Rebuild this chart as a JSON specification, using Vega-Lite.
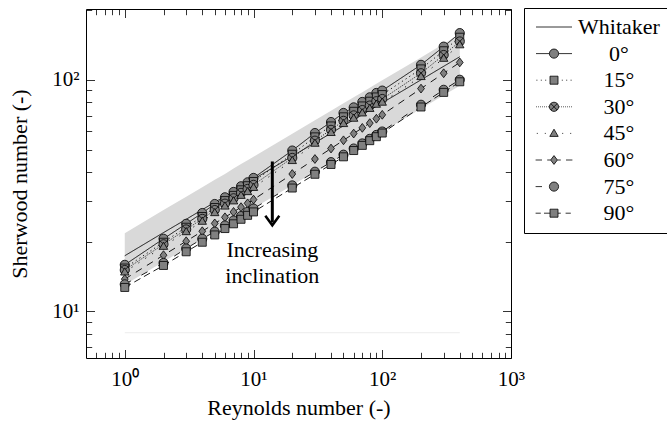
{
  "$schema": "https://vega.github.io/schema/vega-lite/v6.json",
  "width": 425,
  "height": 349,
  "autosize": "none",
  "padding": {"left": 86, "top": 9, "right": 156, "bottom": 68},
  "background": "white",
  "config": {
    "font": "Liberation Serif",
    "view": {"stroke": "black", "strokeWidth": 1},
    "axis": {"domain": false, "grid": false, "tickColor": "black", "tickWidth": 0.8, "labelFont": "Liberation Serif", "labelFontSize": 21, "labelColor": "black", "titleFont": "Liberation Serif", "titleFontSize": 22, "titleFontWeight": "normal", "titleColor": "black", "labelFlush": false, "labelOverlap": false, "labelBound": false}
  },
  "datasets": {
    "series": [
      {"Re":1,"Sh":17.4,"series":"Whitaker"},{"Re":2,"Sh":21.9,"series":"Whitaker"},{"Re":3,"Sh":25.0,"series":"Whitaker"},{"Re":4,"Sh":27.5,"series":"Whitaker"},{"Re":5,"Sh":29.6,"series":"Whitaker"},{"Re":6,"Sh":31.4,"series":"Whitaker"},{"Re":7,"Sh":33.1,"series":"Whitaker"},{"Re":8,"Sh":34.6,"series":"Whitaker"},{"Re":9,"Sh":35.9,"series":"Whitaker"},{"Re":10,"Sh":37.2,"series":"Whitaker"},{"Re":20,"Sh":46.8,"series":"Whitaker"},{"Re":30,"Sh":53.5,"series":"Whitaker"},{"Re":40,"Sh":58.8,"series":"Whitaker"},{"Re":50,"Sh":63.3,"series":"Whitaker"},{"Re":60,"Sh":67.2,"series":"Whitaker"},{"Re":70,"Sh":70.7,"series":"Whitaker"},{"Re":80,"Sh":73.9,"series":"Whitaker"},{"Re":90,"Sh":76.8,"series":"Whitaker"},{"Re":100,"Sh":79.5,"series":"Whitaker"},{"Re":200,"Sh":99.9,"series":"Whitaker"},{"Re":300,"Sh":114.3,"series":"Whitaker"},{"Re":400,"Sh":125.7,"series":"Whitaker"},
      {"Re":1,"Sh":15.9,"series":"0°"},{"Re":2,"Sh":20.6,"series":"0°"},{"Re":3,"Sh":23.9,"series":"0°"},{"Re":4,"Sh":26.6,"series":"0°"},{"Re":5,"Sh":29.1,"series":"0°"},{"Re":6,"Sh":31.1,"series":"0°"},{"Re":7,"Sh":32.8,"series":"0°"},{"Re":8,"Sh":34.7,"series":"0°"},{"Re":9,"Sh":36.1,"series":"0°"},{"Re":10,"Sh":37.7,"series":"0°"},{"Re":20,"Sh":49.5,"series":"0°"},{"Re":30,"Sh":58.9,"series":"0°"},{"Re":40,"Sh":65.7,"series":"0°"},{"Re":50,"Sh":71.9,"series":"0°"},{"Re":60,"Sh":76.0,"series":"0°"},{"Re":70,"Sh":80.2,"series":"0°"},{"Re":80,"Sh":84.0,"series":"0°"},{"Re":90,"Sh":87.7,"series":"0°"},{"Re":100,"Sh":89.8,"series":"0°"},{"Re":200,"Sh":116,"series":"0°"},{"Re":300,"Sh":139,"series":"0°"},{"Re":400,"Sh":159,"series":"0°"},
      {"Re":1,"Sh":15.4,"series":"15°"},{"Re":2,"Sh":19.9,"series":"15°"},{"Re":3,"Sh":23.1,"series":"15°"},{"Re":4,"Sh":25.7,"series":"15°"},{"Re":5,"Sh":28.1,"series":"15°"},{"Re":6,"Sh":30.1,"series":"15°"},{"Re":7,"Sh":31.7,"series":"15°"},{"Re":8,"Sh":33.5,"series":"15°"},{"Re":9,"Sh":34.9,"series":"15°"},{"Re":10,"Sh":36.4,"series":"15°"},{"Re":20,"Sh":47.7,"series":"15°"},{"Re":30,"Sh":56.7,"series":"15°"},{"Re":40,"Sh":63.2,"series":"15°"},{"Re":50,"Sh":69.2,"series":"15°"},{"Re":60,"Sh":73.1,"series":"15°"},{"Re":70,"Sh":77.1,"series":"15°"},{"Re":80,"Sh":80.8,"series":"15°"},{"Re":90,"Sh":84.3,"series":"15°"},{"Re":100,"Sh":86.3,"series":"15°"},{"Re":200,"Sh":111.4,"series":"15°"},{"Re":300,"Sh":133.4,"series":"15°"},{"Re":400,"Sh":152.6,"series":"15°"},
      {"Re":1,"Sh":15.1,"series":"30°"},{"Re":2,"Sh":19.5,"series":"30°"},{"Re":3,"Sh":22.6,"series":"30°"},{"Re":4,"Sh":25.1,"series":"30°"},{"Re":5,"Sh":27.4,"series":"30°"},{"Re":6,"Sh":29.2,"series":"30°"},{"Re":7,"Sh":30.8,"series":"30°"},{"Re":8,"Sh":32.5,"series":"30°"},{"Re":9,"Sh":33.8,"series":"30°"},{"Re":10,"Sh":35.2,"series":"30°"},{"Re":20,"Sh":46.0,"series":"30°"},{"Re":30,"Sh":54.6,"series":"30°"},{"Re":40,"Sh":60.8,"series":"30°"},{"Re":50,"Sh":66.5,"series":"30°"},{"Re":60,"Sh":70.2,"series":"30°"},{"Re":70,"Sh":74.0,"series":"30°"},{"Re":80,"Sh":77.4,"series":"30°"},{"Re":90,"Sh":80.8,"series":"30°"},{"Re":100,"Sh":82.6,"series":"30°"},{"Re":200,"Sh":106.7,"series":"30°"},{"Re":300,"Sh":127.9,"series":"30°"},{"Re":400,"Sh":146.3,"series":"30°"},
      {"Re":1,"Sh":14.8,"series":"45°"},{"Re":2,"Sh":19.1,"series":"45°"},{"Re":3,"Sh":22.1,"series":"45°"},{"Re":4,"Sh":24.5,"series":"45°"},{"Re":5,"Sh":26.7,"series":"45°"},{"Re":6,"Sh":28.5,"series":"45°"},{"Re":7,"Sh":30.0,"series":"45°"},{"Re":8,"Sh":31.7,"series":"45°"},{"Re":9,"Sh":32.9,"series":"45°"},{"Re":10,"Sh":34.3,"series":"45°"},{"Re":20,"Sh":44.8,"series":"45°"},{"Re":30,"Sh":53.2,"series":"45°"},{"Re":40,"Sh":59.2,"series":"45°"},{"Re":50,"Sh":64.7,"series":"45°"},{"Re":60,"Sh":68.2,"series":"45°"},{"Re":70,"Sh":71.9,"series":"45°"},{"Re":80,"Sh":75.2,"series":"45°"},{"Re":90,"Sh":78.4,"series":"45°"},{"Re":100,"Sh":80.0,"series":"45°"},{"Re":200,"Sh":103.2,"series":"45°"},{"Re":300,"Sh":123.7,"series":"45°"},{"Re":400,"Sh":141.5,"series":"45°"},
      {"Re":1,"Sh":13.8,"series":"60°"},{"Re":2,"Sh":17.5,"series":"60°"},{"Re":3,"Sh":20.1,"series":"60°"},{"Re":4,"Sh":22.2,"series":"60°"},{"Re":5,"Sh":24.0,"series":"60°"},{"Re":6,"Sh":25.5,"series":"60°"},{"Re":7,"Sh":26.9,"series":"60°"},{"Re":8,"Sh":28.2,"series":"60°"},{"Re":9,"Sh":29.3,"series":"60°"},{"Re":10,"Sh":30.4,"series":"60°"},{"Re":20,"Sh":39.2,"series":"60°"},{"Re":30,"Sh":45.5,"series":"60°"},{"Re":40,"Sh":50.5,"series":"60°"},{"Re":50,"Sh":54.8,"series":"60°"},{"Re":60,"Sh":58.6,"series":"60°"},{"Re":70,"Sh":62.0,"series":"60°"},{"Re":80,"Sh":65.0,"series":"60°"},{"Re":90,"Sh":67.9,"series":"60°"},{"Re":100,"Sh":70.6,"series":"60°"},{"Re":200,"Sh":91.6,"series":"60°"},{"Re":300,"Sh":106.7,"series":"60°"},{"Re":400,"Sh":118.8,"series":"60°"},
      {"Re":1,"Sh":13.1,"series":"75°"},{"Re":2,"Sh":16.2,"series":"75°"},{"Re":3,"Sh":18.7,"series":"75°"},{"Re":4,"Sh":20.6,"series":"75°"},{"Re":5,"Sh":22.1,"series":"75°"},{"Re":6,"Sh":23.5,"series":"75°"},{"Re":7,"Sh":24.7,"series":"75°"},{"Re":8,"Sh":25.8,"series":"75°"},{"Re":9,"Sh":26.9,"series":"75°"},{"Re":10,"Sh":27.8,"series":"75°"},{"Re":20,"Sh":35.0,"series":"75°"},{"Re":30,"Sh":40.1,"series":"75°"},{"Re":40,"Sh":44.1,"series":"75°"},{"Re":50,"Sh":47.5,"series":"75°"},{"Re":60,"Sh":50.5,"series":"75°"},{"Re":70,"Sh":53.1,"series":"75°"},{"Re":80,"Sh":55.6,"series":"75°"},{"Re":90,"Sh":57.8,"series":"75°"},{"Re":100,"Sh":59.8,"series":"75°"},{"Re":200,"Sh":78.0,"series":"75°"},{"Re":300,"Sh":90.5,"series":"75°"},{"Re":400,"Sh":100,"series":"75°"},
      {"Re":1,"Sh":12.7,"series":"90°"},{"Re":2,"Sh":15.8,"series":"90°"},{"Re":3,"Sh":18.1,"series":"90°"},{"Re":4,"Sh":19.9,"series":"90°"},{"Re":5,"Sh":21.4,"series":"90°"},{"Re":6,"Sh":22.8,"series":"90°"},{"Re":7,"Sh":23.9,"series":"90°"},{"Re":8,"Sh":25.0,"series":"90°"},{"Re":9,"Sh":26.0,"series":"90°"},{"Re":10,"Sh":26.9,"series":"90°"},{"Re":20,"Sh":34.1,"series":"90°"},{"Re":30,"Sh":39.1,"series":"90°"},{"Re":40,"Sh":43.1,"series":"90°"},{"Re":50,"Sh":46.5,"series":"90°"},{"Re":60,"Sh":49.5,"series":"90°"},{"Re":70,"Sh":52.1,"series":"90°"},{"Re":80,"Sh":54.6,"series":"90°"},{"Re":90,"Sh":56.8,"series":"90°"},{"Re":100,"Sh":58.9,"series":"90°"},{"Re":200,"Sh":76.3,"series":"90°"},{"Re":300,"Sh":88.2,"series":"90°"},{"Re":400,"Sh":98,"series":"90°"}
    ],
    "band": [
      {"Re":1,"low":13.05,"high":21.75},{"Re":2,"low":16.4,"high":27.4},{"Re":3,"low":18.75,"high":31.25},{"Re":4,"low":20.6,"high":34.4},{"Re":5,"low":22.2,"high":37.0},{"Re":6,"low":23.55,"high":39.25},{"Re":7,"low":24.8,"high":41.4},{"Re":8,"low":25.95,"high":43.25},{"Re":9,"low":26.9,"high":44.9},{"Re":10,"low":27.9,"high":46.5},{"Re":20,"low":35.1,"high":58.5},{"Re":30,"low":40.1,"high":66.9},{"Re":40,"low":44.1,"high":73.5},{"Re":50,"low":47.5,"high":79.1},{"Re":60,"low":50.4,"high":84.0},{"Re":70,"low":53.0,"high":88.4},{"Re":80,"low":55.4,"high":92.4},{"Re":90,"low":57.6,"high":96.0},{"Re":100,"low":59.6,"high":99.4},{"Re":200,"low":74.9,"high":124.9},{"Re":300,"low":85.7,"high":142.9},{"Re":400,"low":94.3,"high":157.1}
    ],
    "base": [{"Re":1,"Sh":8.1},{"Re":400,"Sh":8.1}],
    "arrow": [{"Re":14,"top":44.4,"end":24.2,"tip":23.55}],
    "note": [{"Re":14,"Sh":18.5,"label":"Increasing\ninclination"}],
    "keys": [{"series":"Whitaker"},{"series":"0°"},{"series":"15°"},{"series":"30°"},{"series":"45°"},{"series":"60°"},{"series":"75°"},{"series":"90°"}]
  },
  "layer": [
    {
      "data": {"name": "band"},
      "mark": {"type": "area", "color": "#d9d9d9", "opacity": 1},
      "encoding": {
        "x": {"field": "Re", "type": "quantitative", "scale": {"type": "log", "domain": [0.5, 1000], "nice": false}, "axis": {"orient": "bottom", "values": [1, 10, 100, 1000], "tickSize": -8.5, "labelPadding": 18.5, "labelExpr": "datum.value == 1 ? '10⁰' : datum.value == 10 ? '10¹' : datum.value == 100 ? '10²' : '10³'", "title": "Reynolds number (-)", "titlePadding": 8}},
        "y": {"field": "low", "type": "quantitative", "scale": {"type": "log", "domain": [6.3, 202], "nice": false}, "axis": {"orient": "left", "values": [10, 100], "tickSize": -8.5, "labelPadding": 15.5, "labelExpr": "datum.value == 10 ? '10¹' : '10²'", "title": "Sherwood number (-)", "titlePadding": 20}},
        "y2": {"field": "high"}
      }
    },
    {
      "data": {"name": "base"},
      "mark": {"type": "line", "color": "#ececec", "strokeWidth": 1},
      "encoding": {
        "x": {"field": "Re", "type": "quantitative", "scale": {"type": "log", "domain": [0.5, 1000], "nice": false}, "axis": {"orient": "bottom", "values": [0.6, 0.7, 0.8, 0.9, 2, 3, 4, 5, 6, 7, 8, 9, 20, 30, 40, 50, 60, 70, 80, 90, 200, 300, 400, 500, 600, 700, 800, 900], "tickSize": -5.7, "labels": false, "title": null}},
        "y": {"field": "Sh", "type": "quantitative", "scale": {"type": "log", "domain": [6.3, 202], "nice": false}, "axis": {"orient": "left", "values": [7, 8, 9, 20, 30, 40, 50, 60, 70, 80, 90, 200], "tickSize": -5.7, "labels": false, "title": null}}
      }
    },
    {
      "data": {"name": "series"},
      "mark": {"type": "line", "color": "black", "strokeWidth": 0.9},
      "encoding": {
        "x": {"field": "Re", "type": "quantitative", "scale": {"type": "log", "domain": [0.5, 1000], "nice": false}, "axis": {"orient": "top", "values": [1, 10, 100, 1000], "tickSize": -8.5, "labels": false, "title": null}},
        "y": {"field": "Sh", "type": "quantitative", "scale": {"type": "log", "domain": [6.3, 202], "nice": false}, "axis": {"orient": "right", "values": [10, 100], "tickSize": -8.5, "labels": false, "title": null}},
        "strokeDash": {
          "field": "series", "type": "nominal",
          "scale": {"domain": ["Whitaker", "0°", "15°", "30°", "45°", "60°", "75°", "90°"], "range": [[1, 0], [1, 0], [1.2, 3.2], [1, 1.4], [1.2, 7], [7, 6], [7, 12], [7, 4]]},
          "legend": null
        }
      }
    },
    {
      "data": {"name": "series"},
      "transform": [{"filter": "datum.series !== 'Whitaker'"}],
      "mark": {"type": "point", "filled": true, "fill": "#808080", "stroke": "black", "strokeWidth": 0.8, "size": 64, "opacity": 1, "fillOpacity": 1, "strokeOpacity": 1},
      "encoding": {
        "x": {"field": "Re", "type": "quantitative", "scale": {"type": "log", "domain": [0.5, 1000], "nice": false}, "axis": {"orient": "top", "values": [0.6, 0.7, 0.8, 0.9, 2, 3, 4, 5, 6, 7, 8, 9, 20, 30, 40, 50, 60, 70, 80, 90, 200, 300, 400, 500, 600, 700, 800, 900], "tickSize": -5.7, "labels": false, "title": null}},
        "y": {"field": "Sh", "type": "quantitative", "scale": {"type": "log", "domain": [6.3, 202], "nice": false}, "axis": {"orient": "right", "values": [7, 8, 9, 20, 30, 40, 50, 60, 70, 80, 90, 200], "tickSize": -5.7, "labels": false, "title": null}},
        "shape": {
          "field": "series", "type": "nominal",
          "scale": {"domain": ["0°", "15°", "30°", "45°", "60°", "75°", "90°"], "range": [
            "M1.15,0A1.15,1.15,0,1,1,-1.15,0A1.15,1.15,0,1,1,1.15,0Z",
            "M-1,-1L1,-1L1,1L-1,1Z",
            "M1.15,0A1.15,1.15,0,1,1,-1.15,0A1.15,1.15,0,1,1,1.15,0ZM-0.8,-0.8L0.8,0.8M-0.8,0.8L0.8,-0.8",
            "M0,-1.05L1.05,0.75L-1.05,0.75Z",
            "M0,-1.1L0.85,0L0,1.1L-0.85,0Z",
            "M1.15,0A1.15,1.15,0,1,1,-1.15,0A1.15,1.15,0,1,1,1.15,0Z",
            "M-1,-1L1,-1L1,1L-1,1Z"
          ]},
          "legend": null
        }
      }
    },
    {
      "data": {"name": "keys"},
      "mark": {"type": "point", "filled": true, "strokeWidth": 0.8, "size": 64, "opacity": 0},
      "encoding": {
        "fill": {"value": "#808080"},
        "stroke": {"value": "black"},
        "shape": {
          "field": "series", "type": "nominal",
          "scale": {"domain": ["Whitaker", "0°", "15°", "30°", "45°", "60°", "75°", "90°"], "range": [
            "M-4.5,0L4.5,0",
            "M-4.5,0L-1.15,0M1.15,0L4.5,0M1.15,0A1.15,1.15,0,1,1,-1.15,0A1.15,1.15,0,1,1,1.15,0Z",
            "M-4.4,0L-4.15,0M-3.3,0L-3.05,0M-2.2,0L-1.95,0M1.95,0L2.2,0M3.05,0L3.3,0M4.15,0L4.4,0M-1,-1L1,-1L1,1L-1,1Z",
            "M-4.5,0L-4.3,0M-4,0L-3.8,0M-3.5,0L-3.3,0M-3,0L-2.8,0M-2.5,0L-2.3,0M-2,0L-1.8,0M-1.5,0L-1.3,0M1.3,0L1.5,0M1.8,0L2,0M2.3,0L2.5,0M2.8,0L3,0M3.3,0L3.5,0M3.8,0L4,0M4.3,0L4.5,0M1.15,0A1.15,1.15,0,1,1,-1.15,0A1.15,1.15,0,1,1,1.15,0ZM-0.8,-0.8L0.8,0.8M-0.8,0.8L0.8,-0.8",
            "M-4.3,0L-4.05,0M-2.3,0L-2.05,0M2.05,0L2.3,0M4.05,0L4.3,0M0,-1.05L1.05,0.75L-1.05,0.75Z",
            "M-4.6,0L-3,0M-1.7,0L-0.85,0M0.85,0L1.7,0M3,0L4.6,0M0,-1.1L0.85,0L0,1.1L-0.85,0Z",
            "M-4.6,0L-3,0M1.15,0A1.15,1.15,0,1,1,-1.15,0A1.15,1.15,0,1,1,1.15,0Z",
            "M-4.6,0L-3.3,0M-2.5,0L-1,0M1,0L1.7,0M2.9,0L4.2,0M-1,-1L1,-1L1,1L-1,1Z"
          ]},
          "legend": {
            "orient": "none", "legendX": 438, "legendY": -1, "title": null,
            "padding": 8, "strokeColor": "black", "fillColor": "white", "cornerRadius": 0,
            "rowPadding": 4.6, "symbolOffset": 11, "labelOffset": 54, "labelAlign": "center",
            "labelFont": "Liberation Serif", "labelFontSize": 22, "labelColor": "black",
            "symbolSize": 64, "symbolOpacity": 1, "symbolStrokeWidth": 0.8
          }
        }
      }
    },
    {
      "data": {"name": "arrow"},
      "mark": {"type": "rule", "color": "black", "strokeWidth": 3},
      "encoding": {
        "x": {"field": "Re", "type": "quantitative", "scale": {"type": "log", "domain": [0.5, 1000], "nice": false}, "axis": null},
        "y": {"field": "top", "type": "quantitative", "scale": {"type": "log", "domain": [6.3, 202], "nice": false}, "axis": null},
        "y2": {"field": "end"}
      }
    },
    {
      "data": {"name": "arrow"},
      "mark": {"type": "point", "shape": "M-1.75,-2.4L0,0L1.75,-2.4", "size": 64, "filled": false, "color": "black", "strokeWidth": 2.5, "opacity": 1},
      "encoding": {
        "x": {"field": "Re", "type": "quantitative", "scale": {"type": "log", "domain": [0.5, 1000], "nice": false}, "axis": null},
        "y": {"field": "tip", "type": "quantitative", "scale": {"type": "log", "domain": [6.3, 202], "nice": false}, "axis": null}
      }
    },
    {
      "data": {"name": "note"},
      "mark": {"type": "text", "font": "Liberation Serif", "fontSize": 22, "align": "center", "baseline": "middle", "lineBreak": "\n", "lineHeight": 26.7, "color": "black"},
      "encoding": {
        "x": {"field": "Re", "type": "quantitative", "scale": {"type": "log", "domain": [0.5, 1000], "nice": false}, "axis": null},
        "y": {"field": "Sh", "type": "quantitative", "scale": {"type": "log", "domain": [6.3, 202], "nice": false}, "axis": null},
        "text": {"field": "label"}
      }
    }
  ],
  "resolve": {"axis": {"x": "independent", "y": "independent"}, "scale": {"shape": "independent"}}
}
